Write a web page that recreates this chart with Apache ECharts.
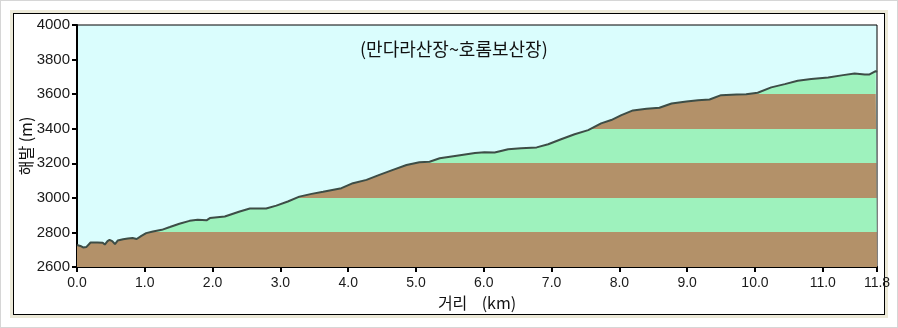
<!DOCTYPE html>
<html>
<head>
<meta charset="utf-8">
<script src="https://cdn.jsdelivr.net/npm/echarts@6/dist/echarts.min.js"></script>
<style>
  html, body { margin: 0; padding: 0; background: #ffffff; }
  #outer { position: absolute; left: 0; top: 0; width: 896px; height: 326px; border: 1px solid #d6d6d6; }
  #panel { position: absolute; left: 10px; top: 10px; width: 878px; height: 308px; background: #ece9d8; }
  #frame { position: absolute; left: 13px; top: 13px; width: 870px; height: 300px; background: #ffffff; border: 1px solid #000000; }
  #chart { position: absolute; left: 0; top: 0; width: 898px; height: 328px; }
</style>
</head>
<body>
<div id="outer"></div>
<div id="panel"></div>
<div id="frame"></div>
<div id="chart"></div>
<script>
// Elevation profile, Mandara hut to Horombo hut
const distanceKm = [
  0.00, 0.05, 0.09, 0.14, 0.20, 0.30, 0.38, 0.41, 0.45, 0.48, 0.52, 0.56, 0.60, 0.68, 0.75, 0.82, 0.88, 0.95,
  1.02, 1.12, 1.25, 1.37, 1.51, 1.66, 1.78, 1.91, 1.96, 2.18, 2.40, 2.55, 2.79, 2.94, 3.11, 3.28, 3.46, 3.63,
  3.90, 4.07, 4.27, 4.46, 4.66, 4.86, 5.05, 5.20, 5.35, 5.60, 5.87, 6.01, 6.16, 6.36, 6.55, 6.78, 6.95, 7.14,
  7.34, 7.54, 7.73, 7.88, 8.03, 8.20, 8.40, 8.59, 8.77, 8.99, 9.16, 9.33, 9.50, 9.73, 9.87, 10.04, 10.24, 10.44,
  10.63, 10.83, 11.08, 11.30, 11.47, 11.62, 11.69, 11.78, 11.80
];
const elevationM = [
  2727, 2722, 2713, 2716, 2742, 2742, 2740, 2730, 2750, 2757, 2750, 2733, 2753, 2760, 2765, 2768, 2762, 2780,
  2796, 2805, 2815, 2831, 2850, 2867, 2873, 2870, 2883, 2892, 2921, 2938, 2938, 2955, 2979, 3007, 3023, 3035,
  3056, 3085, 3104, 3133, 3162, 3190, 3206, 3209, 3229, 3244, 3260, 3264, 3262, 3281, 3287, 3292, 3310, 3339,
  3368, 3392, 3431, 3450, 3479, 3506, 3515, 3521, 3546, 3558, 3565, 3569, 3594, 3598, 3600, 3608, 3639, 3658,
  3677, 3687, 3696, 3710, 3720, 3714, 3714, 3733, 3728
];
// Elevation bands used to colour the ground
const bandEdges = [2600, 2800, 3000, 3200, 3400, 3600, 3800, 4000];
const bandColors = ['#b39169', '#9ef2bd'];

const titleText = '(만다라산장~호롬보산장)';
const xName = '거리    (km)';
const yName = '해발 (m)';

const profile = distanceKm.map((d, i) => [d, elevationM[i]]);
const pieces = [];
for (let i = 0; i < bandEdges.length - 1; i++) {
  pieces.push({ gte: bandEdges[i], lt: bandEdges[i + 1], color: bandColors[i % 2] });
}

const numFont = 'Liberation Sans, Arial, sans-serif';
const krFont = 'Noto Sans CJK KR, sans-serif';

const chart = echarts.init(document.getElementById('chart'), null, { renderer: 'canvas' });
chart.setOption({
  animation: false,
  backgroundColor: 'transparent',
  title: {
    text: titleText,
    left: 360, top: 40, padding: 0,
    textStyle: { fontFamily: krFont, fontSize: 18, fontWeight: 'normal', color: '#111' }
  },
  grid: {
    left: 77, top: 25, width: 800, height: 242,
    show: true, backgroundColor: '#dafdfd', borderColor: '#000', borderWidth: 1
  },
  visualMap: {
    show: false, type: 'piecewise', seriesIndex: 0, dimension: 1, pieces: pieces
  },
  xAxis: {
    type: 'value', min: 0, max: 11.8, interval: 1,
    name: xName, nameLocation: 'middle', nameGap: 26,
    nameTextStyle: { fontFamily: krFont, fontSize: 16, color: '#111' },
    axisLine: { lineStyle: { color: '#000', width: 2 } },
    axisTick: { show: true, length: 5, lineStyle: { color: '#000', width: 2 } },
    axisLabel: { margin: 9, formatter: v => v.toFixed(1), fontFamily: numFont, fontSize: 14, color: '#1a1a1a' },
    splitLine: { show: false }
  },
  yAxis: {
    type: 'value', min: 2600, max: 4000, interval: 200,
    name: yName, nameLocation: 'middle', nameGap: 43, nameRotate: 90, nameMoveOverlap: false,
    nameTextStyle: { fontFamily: krFont, fontSize: 16, color: '#111' },
    axisLine: { show: true, lineStyle: { color: '#000', width: 2 } },
    axisTick: { show: true, length: 5, lineStyle: { color: '#000', width: 2 } },
    axisLabel: { margin: 7, formatter: v => String(v), fontFamily: numFont, fontSize: 15, color: '#1a1a1a' },
    splitLine: { show: false }
  },
  series: [
    {
      type: 'line', data: profile, showSymbol: false, silent: true,
      lineStyle: { width: 0 },
      areaStyle: { opacity: 1, origin: 'start' },
      z: 2
    },
    {
      type: 'line', data: profile, showSymbol: false, silent: true,
      lineStyle: { color: '#3d4d46', width: 2 },
      z: 3
    }
  ]
});
</script>
</body>
</html>
